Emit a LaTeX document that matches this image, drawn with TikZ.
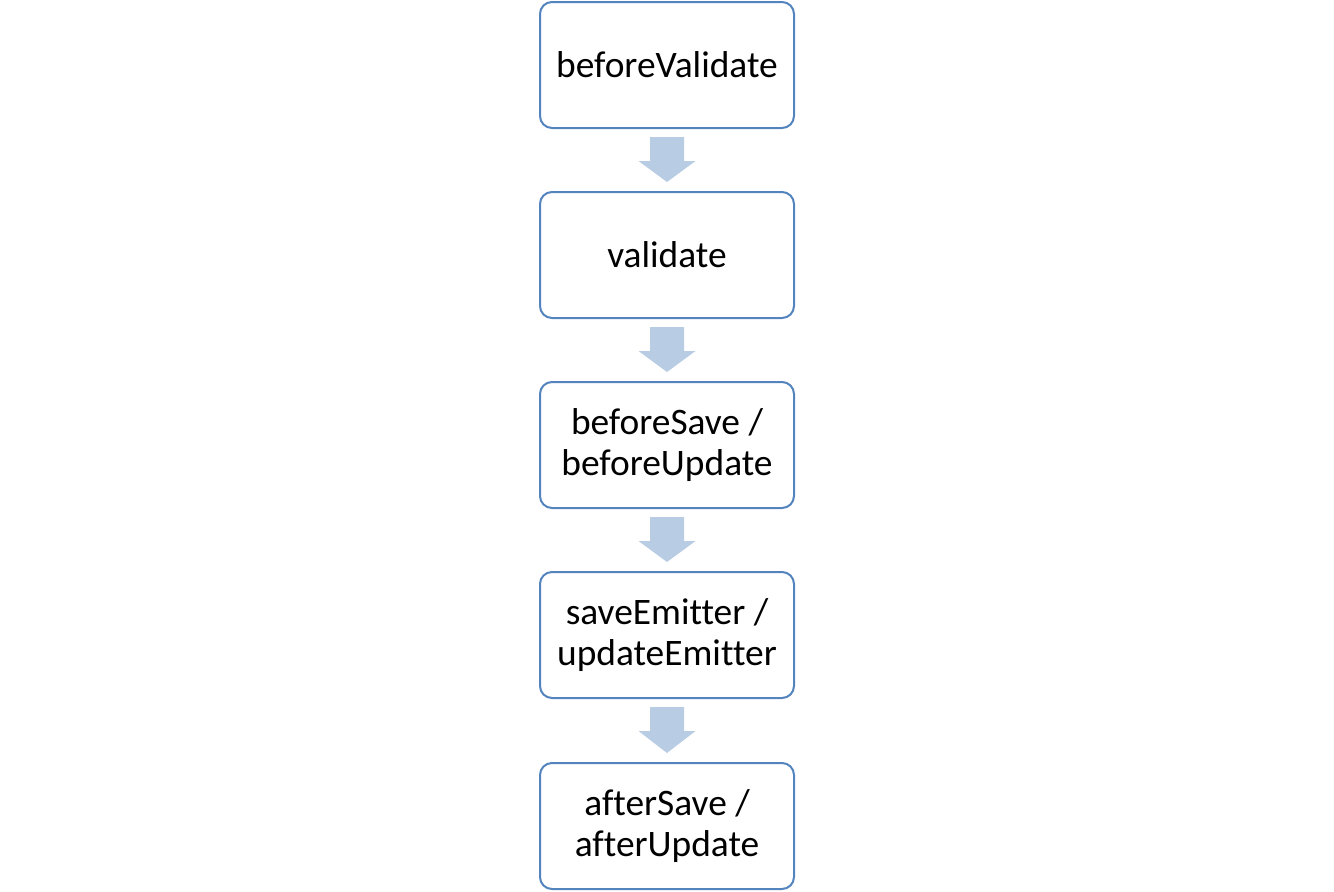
\documentclass[tikz,border=0pt]{standalone}
\usepackage{fontspec}
\setmainfont{Carlito}[Ligatures={NoCommon}]
\usetikzlibrary{calc}
\definecolor{boxline}{HTML}{5484BE}
\definecolor{arrowfill}{HTML}{B8CCE4}
\begin{document}
\begin{tikzpicture}[x=0.5pt,y=-0.5pt,
  stepbox/.style={draw=boxline, line width=1pt, rounded corners=6pt, fill=white,
    minimum width=127pt, minimum height=63pt, inner sep=0pt, align=center,
    font=\fontsize{18.7pt}{20.7pt}\selectfont},
  flowarrow/.style={fill=arrowfill, draw=none}]
\useasboundingbox (0,0) rectangle (1334,891);
\node[stepbox] (a) at (667,65) {beforeValidate};
\node[stepbox] (b) at (667,255) {validate};
\node[stepbox] (c) at (667,445) {beforeSave /\\beforeUpdate};
\node[stepbox] (d) at (667,635) {saveEmitter /\\updateEmitter};
\node[stepbox] (e) at (667,826) {afterSave /\\afterUpdate};
\foreach \s/\t in {a/b,b/c,c/d,d/e}{
  \fill[flowarrow] ($(\s.south)+(-17,8)$) -- ($(\s.south)+(17,8)$) -- ($(\s.south)+(17,32)$)
    -- ($(\s.south)+(28.5,32)$) -- ($(\t.north)+(0,-9)$) -- ($(\s.south)+(-28.5,32)$)
    -- ($(\s.south)+(-17,32)$) -- cycle;
}
\end{tikzpicture}
\end{document}
